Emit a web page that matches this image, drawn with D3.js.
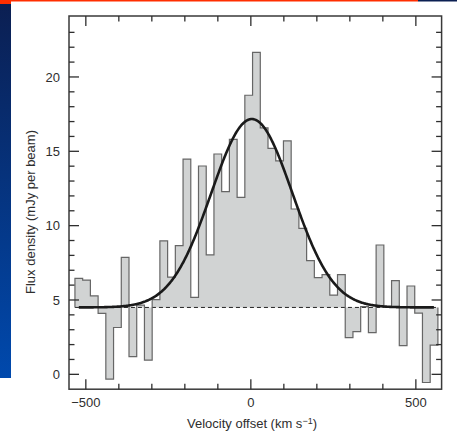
<!DOCTYPE html>
<html>
<head>
<meta charset="utf-8">
<script src="https://cdn.jsdelivr.net/npm/d3@7/dist/d3.min.js"></script>
<style>
  html, body { margin: 0; padding: 0; background: #ffffff; }
  svg { display: block; }
</style>
</head>
<body>
<div id="container"></div>
<script>
// CO line spectrum — flux per channel with a Gaussian fit over a flat continuum

// ---------------------------------------------------------------------------
// Data
// ---------------------------------------------------------------------------

// channel centres, km/s
const channels = [
  -521.3, -497.9, -474.5, -451.1, -427.7, -404.3, -380.9, -357.5, -334.1, -310.7,
  -287.3, -263.9, -240.5, -217.1, -193.7, -170.3, -146.9, -123.5, -100.1, -76.7,
  -53.3, -29.9, -6.5, 16.9, 40.3, 63.7, 87.1, 110.5, 133.9, 157.3,
  180.7, 204.1, 227.5, 250.9, 274.3, 297.7, 321.1, 344.5, 367.9, 391.3,
  414.7, 438.1, 461.5, 484.9, 508.3, 531.7, 555.1
];
const channelWidth = 23.4;

// flux density per channel, mJy per beam
const flux = [
  6.46, 6.34, 5.27, 4.10, -0.32, 3.15, 7.87, 1.19, 4.65, 0.95,
  5.02, 8.97, 6.54, 8.65, 14.48, 5.18, 14.01, 8.03, 14.82, 12.29,
  15.80, 11.90, 18.77, 21.65, 16.57, 15.20, 14.35, 15.70, 11.12, 9.82,
  7.65, 6.50, 6.70, 5.33, 6.70, 2.47, 2.87, 4.55, 2.80, 8.70,
  4.50, 6.30, 1.93, 5.94, 4.12, -0.55, 1.97
];

// Gaussian fit: continuum level, peak above continuum, centre, sigma
const fitContinuum = 4.5;
const fitPeak      = 12.67;
const fitCentre    = 3;
const fitSigma     = 123;

// axis ticks
const xMajorTicks = [-500, 0, 500];
const xMinorTicks = [-400, -300, -200, -100, 100, 200, 300, 400];
const yMajorTicks = [0, 5, 10, 15, 20];
const yMinorTicks = [1, 2, 3, 4, 6, 7, 8, 9, 11, 12, 13, 14, 16, 17, 18, 19, 21, 22, 23];

const xTitle = 'Velocity offset (km s';
const yTitle = 'Flux density (mJy per beam)';

// ---------------------------------------------------------------------------
// Layout
// ---------------------------------------------------------------------------

const W = 457;
const H = 433;
const frame = { left: 69, right: 441.6, top: 16, bottom: 389.2 };
const majorLen = 10;
const minorLen = 5.5;
const fontFamily = '"Liberation Sans", Arial, Helvetica, sans-serif';
const inkColor = '#2e2e2e';

const svg = d3.select('#container')
  .append('svg')
  .attr('width', W)
  .attr('height', H);

// ── Slide decoration (blue side bar, red top rule) ───────────────────────
const defs = svg.append('defs');
const grad = defs.append('linearGradient')
  .attr('id', 'sidebar')
  .attr('x1', 0).attr('y1', 0).attr('x2', 0).attr('y2', 1);
grad.append('stop').attr('offset', '0%').attr('stop-color', '#0b1f52');
grad.append('stop').attr('offset', '100%').attr('stop-color', '#0049ad');

svg.append('rect')
  .attr('x', 0).attr('y', 4).attr('width', 11).attr('height', 374)
  .attr('fill', 'url(#sidebar)');
svg.append('rect')
  .attr('x', 0).attr('y', 0).attr('width', 11).attr('height', 4)
  .attr('fill', '#ff2e00');
svg.append('rect')
  .attr('x', 0).attr('y', 0).attr('width', 418).attr('height', 1.5)
  .attr('fill', '#ff2e00');
svg.append('rect')
  .attr('x', 418).attr('y', 0).attr('width', W - 418).attr('height', 1.5)
  .attr('fill', '#0b1f52');

// ---------------------------------------------------------------------------
// Scales
// ---------------------------------------------------------------------------

const x = d3.scaleLinear().domain([-551, 578]).range([frame.left, frame.right]);
const y = d3.scaleLinear().domain([-1, 24.1]).range([frame.bottom, frame.top]);

// ── Step outline points ──────────────────────────────────────────────────
const firstEdge = channels[0] - channelWidth / 2;
const lastEdge  = channels[channels.length - 1] + channelWidth / 2;

const steps = [{ v: firstEdge, f: fitContinuum }];
channels.forEach((c, i) => {
  steps.push({ v: c - channelWidth / 2, f: flux[i] });
  steps.push({ v: c + channelWidth / 2, f: flux[i] });
});
steps.push({ v: lastEdge, f: fitContinuum });

// filled region between the spectrum and the continuum
svg.append('path')
  .datum(steps)
  .attr('d', d3.area()
    .x(d => x(d.v))
    .y0(y(fitContinuum))
    .y1(d => y(d.f)))
  .attr('fill', '#d1d3d3')
  .attr('stroke', 'none');

// continuum level
svg.append('line')
  .attr('x1', x(firstEdge)).attr('x2', x(lastEdge))
  .attr('y1', y(fitContinuum)).attr('y2', y(fitContinuum))
  .attr('stroke', '#222')
  .attr('stroke-width', 1)
  .attr('stroke-dasharray', '4,3');

// histogram outline
svg.append('path')
  .datum(steps)
  .attr('d', d3.line().x(d => x(d.v)).y(d => y(d.f)))
  .attr('fill', 'none')
  .attr('stroke', '#666')
  .attr('stroke-width', 1.2);

// ── Gaussian fit ─────────────────────────────────────────────────────────
const fitPoints = d3.range(channels[0], channels[channels.length - 1] + 0.1, 2).map(v => ({
  v,
  f: fitContinuum + fitPeak * Math.exp(-((v - fitCentre) ** 2) / (2 * fitSigma ** 2)),
}));

svg.append('path')
  .datum(fitPoints)
  .attr('d', d3.line().x(d => x(d.v)).y(d => y(d.f)))
  .attr('fill', 'none')
  .attr('stroke', '#1a1a1a')
  .attr('stroke-width', 2.6)
  .attr('stroke-linejoin', 'round');

// ---------------------------------------------------------------------------
// Frame, ticks, labels
// ---------------------------------------------------------------------------

svg.append('rect')
  .attr('x', frame.left).attr('y', frame.top)
  .attr('width', frame.right - frame.left)
  .attr('height', frame.bottom - frame.top)
  .attr('fill', 'none')
  .attr('stroke', '#3a3a3a')
  .attr('stroke-width', 1.5);

const ticks = svg.append('g')
  .attr('stroke', inkColor)
  .attr('stroke-width', 1.3);

// x ticks, bottom and top, pointing inward
[[xMajorTicks, majorLen], [xMinorTicks, minorLen]].forEach(([vals, len]) => {
  vals.forEach(v => {
    ticks.append('line')
      .attr('x1', x(v)).attr('x2', x(v))
      .attr('y1', frame.bottom).attr('y2', frame.bottom - len);
    ticks.append('line')
      .attr('x1', x(v)).attr('x2', x(v))
      .attr('y1', frame.top).attr('y2', frame.top + len);
  });
});

// y ticks, left and right, pointing inward
[[yMajorTicks, majorLen], [yMinorTicks, minorLen]].forEach(([vals, len]) => {
  vals.forEach(v => {
    ticks.append('line')
      .attr('x1', frame.left).attr('x2', frame.left + len)
      .attr('y1', y(v)).attr('y2', y(v));
    ticks.append('line')
      .attr('x1', frame.right).attr('x2', frame.right - len)
      .attr('y1', y(v)).attr('y2', y(v));
  });
});

const fmt = v => (v < 0 ? '\u2212' + Math.abs(v) : String(v));

svg.append('g')
  .selectAll('text')
  .data(xMajorTicks)
  .join('text')
  .attr('x', d => x(d))
  .attr('y', 407)
  .attr('text-anchor', 'middle')
  .attr('font-family', fontFamily)
  .attr('font-size', '13px')
  .attr('fill', inkColor)
  .text(fmt);

svg.append('g')
  .selectAll('text')
  .data(yMajorTicks)
  .join('text')
  .attr('x', 60)
  .attr('y', d => y(d))
  .attr('dy', '0.36em')
  .attr('text-anchor', 'end')
  .attr('font-family', fontFamily)
  .attr('font-size', '13px')
  .attr('fill', inkColor)
  .text(fmt);

// axis titles
const xt = svg.append('text')
  .attr('x', 252)
  .attr('y', 428)
  .attr('text-anchor', 'middle')
  .attr('font-family', fontFamily)
  .attr('font-size', '13px')
  .attr('fill', inkColor);
xt.append('tspan').text(xTitle);
xt.append('tspan').attr('dy', -4.5).attr('font-size', '9px').text('\u22121');
xt.append('tspan').attr('dy', 4.5).text(')');

svg.append('text')
  .attr('transform', 'translate(35,212) rotate(-90)')
  .attr('text-anchor', 'middle')
  .attr('font-family', fontFamily)
  .attr('font-size', '13px')
  .attr('fill', inkColor)
  .text(yTitle);
</script>
</body>
</html>
